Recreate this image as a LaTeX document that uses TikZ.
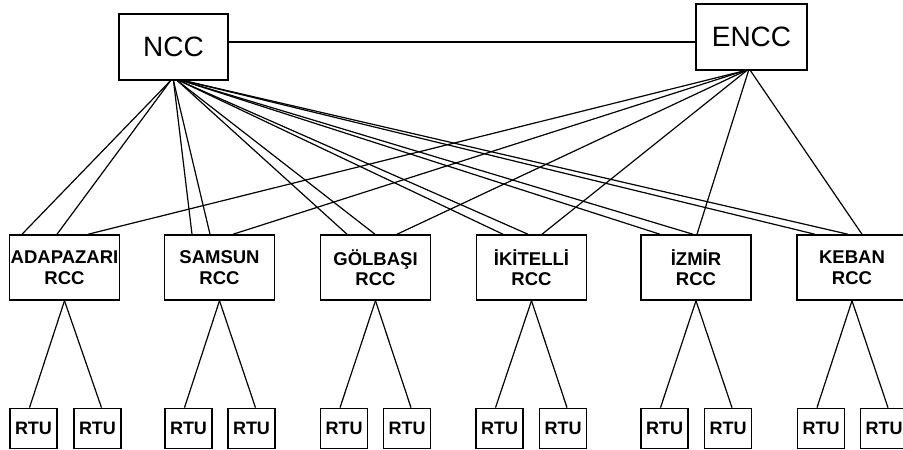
\documentclass[tikz,border=0pt]{standalone}
\usepackage{fontspec}
\setmainfont{Liberation Sans}
\begin{document}
\begin{tikzpicture}[x=1pt,y=-1pt,
  topbox/.style={draw,line width=1.5pt,minimum width=109pt,minimum height=66pt,inner sep=0pt,font=\fontsize{28}{30}\selectfont},
  rccbox/.style={draw,line width=1.5pt,minimum width=110pt,minimum height=65pt,inner sep=0pt,align=center,font=\bfseries\fontsize{18.5}{20.5}\selectfont},
  rtubox/.style={draw,line width=1.7pt,minimum width=47pt,minimum height=40pt,inner sep=0pt,font=\bfseries\fontsize{18}{20}\selectfont},
  link/.style={line width=1.2pt}]
\useasboundingbox (0,0) rectangle (903,450);
\clip (0,0) rectangle (903,450);
\fill[white] (0,0) rectangle (903,450);

\node[topbox] (ncc) at (173.5,47) {NCC};
\node[topbox,minimum width=111pt] (encc) at (751.5,37) {ENCC};

\node[rccbox] (r1) at (64.5,267.5) {ADAPAZARI\\RCC};
\node[rccbox] (r2) at (219.5,267.5) {SAMSUN\\RCC};
\node[rccbox] (r3) at (375.5,267.5) {GÖLBAŞI\\RCC};
\node[rccbox] (r4) at (531.5,267.5) {İKİTELLİ\\RCC};
\node[rccbox] (r5) at (696,267.5) {İZMİR\\RCC};
\node[rccbox] (r6) at (852,267.5) {KEBAN\\RCC};

\foreach \n/\a/\b in {1/33.5/97.5, 2/188.5/251.5, 3/344/407, 4/499.5/563, 5/664.5/728, 6/821/884}{
  \node[rtubox] (t\n a) at (\a,428.5) {RTU};
  \node[rtubox] (t\n b) at (\b,428.5) {RTU};
  \draw[link] (r\n.south) -- ([xshift=-4pt]t\n a.north);
  \draw[link] (r\n.south) -- ([xshift=4pt]t\n b.north);
}

\draw[link] ([yshift=5pt]ncc.east) -- ([yshift=-5pt]encc.west);

% NCC links (two to each RCC)
\foreach \n/\s/\p/\q in {1/-3/-42.5/-7.5, 2/0/-27.5/-9.5, 3/4/-28.5/-0.5, 4/6/-28.5/-3.5, 5/9/-36/-3, 6/11/-37/-4}{
  \draw[link] ([xshift=\s pt]ncc.south) -- ([xshift=\p pt]r\n.north);
  \draw[link] ([xshift=\s pt]ncc.south) -- ([xshift=\q pt]r\n.north);
}
% ENCC links
\foreach \n/\s/\p in {1/-7/23.5, 2/-7/13.5, 3/-6/21.5, 4/-5/10.5, 5/-3/1, 6/-1/10}{
  \draw[link] ([xshift=\s pt]encc.south) -- ([xshift=\p pt]r\n.north);
}
\end{tikzpicture}
\end{document}
